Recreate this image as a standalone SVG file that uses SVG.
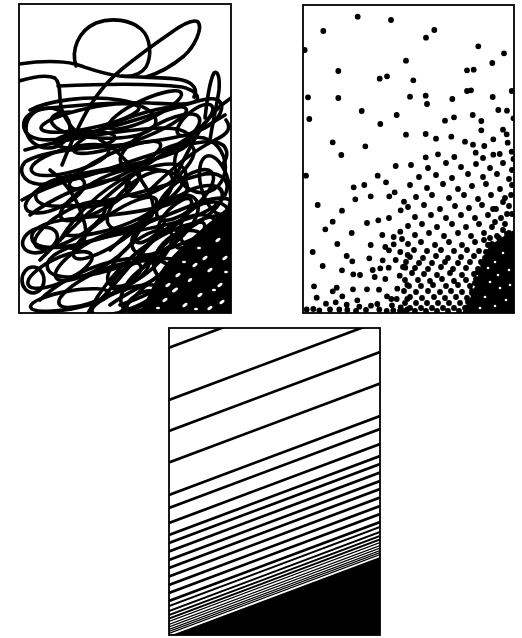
<svg xmlns="http://www.w3.org/2000/svg" width="522" height="638" viewBox="0 0 522 638">
<style>
.frame{fill:none;stroke:#000;stroke-width:1.8}
.scr{fill:none;stroke:#000;stroke-width:3.6;stroke-linecap:round;stroke-linejoin:round}
.dots{fill:none;stroke:#000;stroke-width:5.8;stroke-linecap:round}
.ln{stroke:#000;fill:none}
.hole{fill:#fff}
</style>
<defs>
<clipPath id="c1"><rect x="19" y="4" width="212" height="309"/></clipPath>
<clipPath id="c2"><rect x="303" y="5" width="211" height="308"/></clipPath>
<clipPath id="c3"><rect x="169" y="328" width="211" height="307"/></clipPath>
</defs>
<rect width="522" height="638" fill="#fff"/>

<g id="scribble">
<g clip-path="url(#c1)">
<g class="scr">
<path d="M19,64 C40,61 62,61 75,64 C88,68 102,74 120,76 C145,78 168,77 182,80 C194,83 198,90 194,97"/>
<path d="M76,66 C71,50 78,31 96,23 C112,17 131,20 141,29 C151,38 152,56 146,67 C141,74 132,77 122,76"/>
<path d="M62,165 C70,145 80,122 90,106 C101,88 112,77 122,69 C138,56 156,43 172,32 C183,24 194,19 198,22 C203,28 195,46 184,56 C172,66 160,73 146,77"/>
<path d="M19,81 C32,77 46,74 55,78 C62,84 58,98 62,110 C66,122 72,128 80,135"/>
<path d="M58,86 C100,84 150,83 182,87 C194,90 199,95 197,100 C190,106 170,104 150,103 C120,102 80,105 50,108 C30,110 22,118 24,128 C27,140 45,142 65,138 C100,132 140,118 175,108 C195,102 210,96 218,100 C226,106 220,120 205,128 C185,138 150,142 110,146 C75,149 40,152 25,162 C18,170 22,182 38,184 C60,186 100,172 135,160 C165,150 195,140 215,142 C228,144 230,155 222,165"/>
<path d="M205,118 C207,100 210,80 214,73 C218,70 220,78 219,90 C217,105 213,120 210,140"/>
<path d="M231,98 C220,105 210,115 200,130 C188,150 178,170 170,190"/>
<path d="M22,200 C40,190 70,178 100,172 C130,166 160,168 178,175 C192,182 190,195 175,202 C150,212 110,215 80,218 C55,220 35,225 32,235 C30,248 50,250 75,245 C110,238 150,222 185,208 C205,200 222,195 230,200"/>
<path d="M25,150 C60,140 120,130 160,128 C190,127 200,140 180,150 C150,165 90,170 60,178 C35,185 28,200 45,205 C80,212 150,190 200,175 C220,170 232,180 225,195 C215,215 170,225 130,232 C90,240 55,248 48,262 C42,278 70,282 110,270 C150,258 190,240 215,230"/>
<path d="M30,110 C50,100 90,95 120,100 C150,105 165,120 150,130 C130,142 80,140 60,130 C45,122 50,112 70,112"/>
<path d="M100,300 C120,280 140,250 165,230 C185,215 205,210 215,220 C222,232 205,250 185,262 C160,278 130,290 110,305"/>
<path d="M40,300 C55,285 80,270 110,262 C140,255 165,258 170,268 C175,282 150,295 120,305"/>
<path d="M60,240 C75,215 100,190 130,175 C155,163 180,160 185,170 C190,185 165,205 140,218 C115,230 85,238 65,235"/>
<path d="M40,260 C70,230 100,200 140,170 C170,148 200,130 225,115"/>
<path d="M30,215 C50,200 80,185 110,180 C130,177 138,185 125,195 C110,205 85,210 70,205"/>
<path d="M88,313 C100,290 115,270 140,250 C160,235 180,225 200,222"/>
<path d="M120,313 C135,295 155,275 175,265 C190,258 205,262 200,272"/>
<path d="M150,190 C170,170 195,150 215,140 C228,134 232,128 226,120"/>
<path d="M100,140 C120,150 140,175 150,195 C158,212 150,225 140,220"/>
<path d="M50,170 C70,185 80,205 85,225 C88,240 80,250 70,248"/>
<path d="M110,250 C130,230 160,205 190,190 C210,182 225,185 222,198 C218,212 195,225 170,240"/>
<path d="M125,290 C140,270 160,245 185,228 C205,216 222,212 228,220"/>
<ellipse cx="90" cy="118" rx="50" ry="10" transform="rotate(-12 90 118)"/>
<ellipse cx="130" cy="130" rx="60" ry="12" transform="rotate(-20 130 130)"/>
<ellipse cx="48" cy="128" rx="22" ry="20"/>
<ellipse cx="160" cy="140" rx="45" ry="15" transform="rotate(-30 160 140)"/>
<ellipse cx="195" cy="120" rx="22" ry="9" transform="rotate(-40 195 120)"/>
<ellipse cx="70" cy="160" rx="40" ry="12" transform="rotate(-15 70 160)"/>
<ellipse cx="115" cy="165" rx="50" ry="12" transform="rotate(-25 115 165)"/>
<ellipse cx="160" cy="170" rx="40" ry="16" transform="rotate(-35 160 170)"/>
<ellipse cx="200" cy="165" rx="25" ry="28" transform="rotate(-20 200 165)"/>
<ellipse cx="55" cy="195" rx="32" ry="13" transform="rotate(-25 55 195)"/>
<ellipse cx="100" cy="195" rx="45" ry="14" transform="rotate(-30 100 195)"/>
<ellipse cx="140" cy="200" rx="40" ry="18" transform="rotate(-40 140 200)"/>
<ellipse cx="185" cy="195" rx="35" ry="15" transform="rotate(-40 185 195)"/>
<ellipse cx="215" cy="185" rx="14" ry="30" transform="rotate(-15 215 185)"/>
<ellipse cx="70" cy="225" rx="40" ry="14" transform="rotate(-30 70 225)"/>
<ellipse cx="115" cy="228" rx="50" ry="14" transform="rotate(-35 115 228)"/>
<ellipse cx="165" cy="225" rx="40" ry="20" transform="rotate(-40 165 225)"/>
<ellipse cx="205" cy="225" rx="28" ry="20" transform="rotate(-35 205 225)"/>
<ellipse cx="40" cy="240" rx="18" ry="12" transform="rotate(-20 40 240)"/>
<ellipse cx="95" cy="255" rx="45" ry="14" transform="rotate(-30 95 255)"/>
<ellipse cx="140" cy="258" rx="40" ry="16" transform="rotate(-40 140 258)"/>
<ellipse cx="60" cy="270" rx="35" ry="12" transform="rotate(-25 60 270)"/>
<ellipse cx="33" cy="280" rx="11" ry="13"/>
<ellipse cx="100" cy="285" rx="45" ry="13" transform="rotate(-25 100 285)"/>
<ellipse cx="150" cy="285" rx="35" ry="18" transform="rotate(-40 150 285)"/>
<ellipse cx="70" cy="300" rx="40" ry="9" transform="rotate(-10 70 300)"/>
<ellipse cx="125" cy="300" rx="35" ry="10" transform="rotate(-20 125 300)"/>
<ellipse cx="180" cy="255" rx="30" ry="20" transform="rotate(-40 180 255)"/>
<ellipse cx="195" cy="275" rx="25" ry="18" transform="rotate(-35 195 275)"/>
<ellipse cx="180" cy="295" rx="25" ry="14" transform="rotate(-30 180 295)"/>
<ellipse cx="210" cy="250" rx="20" ry="15" transform="rotate(-30 210 250)"/>
<ellipse cx="85" cy="140" rx="30" ry="8" transform="rotate(-5 85 140)"/>
<ellipse cx="145" cy="110" rx="40" ry="10" transform="rotate(-25 145 110)"/>
<ellipse cx="160" cy="245" rx="22" ry="9" transform="rotate(-40 160 245)"/>
<ellipse cx="130" cy="275" rx="22" ry="8" transform="rotate(-35 130 275)"/>
<ellipse cx="175" cy="215" rx="22" ry="8" transform="rotate(-45 175 215)"/>
<ellipse cx="150" cy="230" rx="18" ry="7" transform="rotate(-40 150 230)"/>
<ellipse cx="190" cy="235" rx="18" ry="8" transform="rotate(-40 190 235)"/>
<ellipse cx="140" cy="300" rx="15" ry="6" transform="rotate(-30 140 300)"/>
</g>
<path d="M140,313 C146,300 153,285 160,272 C168,260 176,252 186,243 C196,234 206,225 215,218 C222,212 227,208 231,204 L231,313 Z" fill="#000"/>
<g class="hole">
<ellipse cx="165" cy="300" rx="3" ry="1.5" transform="rotate(-35 165 300)"/>
<ellipse cx="175" cy="290" rx="3.5" ry="1.5" transform="rotate(-35 175 290)"/>
<ellipse cx="185" cy="305" rx="3" ry="1.5" transform="rotate(-35 185 305)"/>
<ellipse cx="190" cy="280" rx="2.5" ry="1.5" transform="rotate(-35 190 280)"/>
<ellipse cx="200" cy="295" rx="3" ry="1.5" transform="rotate(-35 200 295)"/>
<ellipse cx="210" cy="270" rx="3" ry="1.5" transform="rotate(-35 210 270)"/>
<ellipse cx="220" cy="285" rx="3" ry="1.5" transform="rotate(-35 220 285)"/>
<ellipse cx="205" cy="258" rx="3" ry="1.5" transform="rotate(-35 205 258)"/>
<ellipse cx="218" cy="240" rx="3" ry="1.5" transform="rotate(-35 218 240)"/>
<ellipse cx="222" cy="302" rx="3" ry="1.5" transform="rotate(-35 222 302)"/>
<ellipse cx="195" cy="265" rx="3" ry="1.5" transform="rotate(-35 195 265)"/>
<ellipse cx="178" cy="275" rx="3" ry="1.5" transform="rotate(-35 178 275)"/>
<ellipse cx="168" cy="285" rx="3" ry="1.5" transform="rotate(-35 168 285)"/>
<ellipse cx="210" cy="308" rx="3" ry="1.5" transform="rotate(-35 210 308)"/>
<ellipse cx="225" cy="258" rx="3" ry="1.5" transform="rotate(-35 225 258)"/>
<ellipse cx="158" cy="308" rx="2" ry="1.2"/>
<ellipse cx="196" cy="309" rx="2" ry="1.2"/>
<ellipse cx="214" cy="290" rx="2" ry="1.2"/>
<ellipse cx="226" cy="272" rx="2" ry="1.2"/>
<ellipse cx="199" cy="248" rx="2" ry="1.2"/>
<ellipse cx="184" cy="262" rx="2" ry="1.2"/>
</g>
</g>
<rect class="frame" x="19" y="4" width="212" height="309"/>
</g>

<g id="dots">
<g clip-path="url(#c2)">
<path class="dots" d="M357.7,16.7h0M391,20h0M323.3,31h0M304.7,50h0M406,60.7h0M338.3,71h0M379.7,78.7h0M387,76.3h0M308,97.3h0M338.3,98h0M410,96.7h0M361.7,111h0M396.7,115h0M309.3,119h0M380.3,124h0M406,134.7h0M332.7,142.3h0M365.3,146.3h0M341.3,155h0
M434.3,30h0M426,37.7h0M478.3,46.3h0M504,53.3h0M492.3,63h0M467,70.3h0M473.7,69.7h0M413.3,80.3h0M467,91h0M471,90.3h0M511.7,91h0M425.7,95.7h0M427,104h0M452.3,99h0M492.7,97h0M498.3,110h0M507,110.7h0M454,117.3h0M472.7,115h0M445,120.7h0M481.3,121h0M513.5,118.3h0M481.3,130.3h0M503,129.7h0M506.7,134.3h0M425.7,134h0M436,138.7h0M451.3,136.7h0M465,141.7h0M473,144.7h0M484.3,146h0M493.3,139.3h0M507.7,142.7h0M475.7,152.7h0M493.3,154.7h0M499.7,154h0M511.7,151.7h0M425.7,157.3h0M438,154.3h0M454.3,157h0M483,158h0M513.5,159h0
M306,175.7h0M395.7,166h0M377.7,175.7h0M353.7,187.3h0M364.3,185h0M386,182.3h0M355.3,199.3h0M370.7,196.3h0M389.3,196.3h0M394.7,192.3h0M404,201.7h0M317.7,205h0M342,210.7h0M400.7,210.3h0M389,218h0M378.3,220.3h0M367,223h0M332.7,221.7h0M325.3,229.3h0M351.7,233h0M382.3,235h0M400.3,231.7h0M393.7,237h0M402,239h0M337.3,244h0M370.7,245h0M393.7,244.3h0M385.3,247h0M389,250.3h0M400.3,252h0M312.7,252h0M407.7,255h0M346.7,256h0M352.3,261.3h0M369.3,258.3h0M382.7,260.3h0M395.7,260h0M322.7,266h0M342,270.3h0M372.7,270h0M380.3,268.3h0M388.7,267.7h0M405.3,267.7h0M353.3,274.3h0M360,275h0M374.7,277h0M385.3,279h0M399.7,275.7h0M314,286.3h0M332.7,291.3h0M336.7,287.7h0M353,289.3h0M367,289.3h0M379,289.7h0M397.3,288.7h0M407.3,285h0M316.7,297.7h0M342.3,296.3h0M357.3,300.3h0M387,296.3h0M391.3,299h0M396.7,299h0M407.3,299h0M326,303.7h0M335.7,302.3h0M346.7,304.7h0M359.3,306.7h0M371,305.7h0M377.3,304h0M392,305.3h0M400.7,307.3h0M306.7,309.5h0M313.3,309h0M319.3,310.5h0M330,309.5h0M339.3,309.5h0M347.3,310h0M379.3,309.5h0M386.7,311h0M393.3,310.5h0M400,311h0M407.3,309.5h0M366,310h0M356,311h0
M411,165h0M428,168h0M446,163h0M461,167h0M476,164h0M490,168h0M503,163h0M512,170h0
M419,177h0M436,175h0M452,178h0M468,174h0M483,177h0M497,174h0M509,179h0
M410,185h0M427,188h0M443,184h0M458,189h0M472,186h0M486,184h0M500,189h0M512,185h0
M416,197h0M432,195h0M449,198h0M464,195h0M478,199h0M491,195h0M505,198h0
M408,207h0M424,205h0M440,209h0M455,206h0M469,208h0M482,205h0M496,209h0M509,206h0
M415,217h0M431,215h0M446,218h0M461,215h0M475,218h0M488,215h0M501,218h0M512,214h0
M408,226h0M422,224h0M437,227h0M452,224h0M466,227h0M479,224h0M492,227h0M505,224h0
M415,235h0M429,233h0M444,236h0M458,233h0M471,236h0M484,233h0M497,236h0M509,233h0
M408,244h0M421,242h0M435,245h0M449,242h0M462,245h0M475,242h0M488,245h0M500,242h0M511,246h0
M414,250h0M427,251h0M441,250h0M454,251h0M467,250h0M479,251h0
M410,257h0M423,258h0M436,256h0M448,258h0M461,257h0M474,256h0M485,258h0
M406,262h0M419,263h0M432,263h0M445,262h0M458,263h0M470,262h0M482,263h0
M403,267h0M415,268h0M428,269h0M441,267h0M453,269h0M466,268h0M478,269h0
M412,273h0M424,274h0M437,275h0M450,273h0M462,275h0M474,274h0
M405,280h0M418,280h0M430,281h0M442,279h0M454,281h0M466,280h0M476,279h0
M409,286h0M421,286h0M433,285h0M446,286h0M458,285h0M470,286h0
M404,291h0M416,292h0M428,291h0M440,292h0M451,291h0M462,292h0M472,291h0
M410,297h0M422,298h0M434,297h0M445,298h0M456,297h0M467,298h0
M405,303h0M416,303h0M427,303h0M438,303h0M449,303h0M460,303h0M470,303h0
M410,308h0M421,308h0M432,308h0M443,308h0M454,308h0M465,308h0
M405,311h0M415,311h0M426,311h0M437,311h0M448,311h0M459,311h0
M495,222h0M503,230h0M511,238h0M490,238h0M499,248h0M507,214h0M493,209h0M503,202h0M511,195h0M484,240h0M505,240h0
M486,252h0M481,262h0M478,272h0M475,283h0M472,293h0M468,302h0M466,308h0M492,244h0M499,238h0M507,234h0"/>
<path d="M514,230 C506,235 496,240 489,247 C483,256 480,267 477,279 C474,291 469,301 462,313 L514,313 Z" fill="#000"/>
<g class="hole">
<circle cx="495" cy="262" r="1.3"/><circle cx="503" cy="253" r="1.3"/><circle cx="509" cy="270" r="1.3"/><circle cx="490" cy="282" r="1.3"/><circle cx="500" cy="288" r="1.3"/><circle cx="506" cy="300" r="1.3"/><circle cx="485" cy="297" r="1.3"/><circle cx="495" cy="306" r="1.3"/><circle cx="510" cy="285" r="1.3"/><circle cx="480" cy="308" r="1.3"/><circle cx="498" cy="275" r="1.3"/><circle cx="488" cy="268" r="1.3"/>
</g>
</g>
<rect class="frame" x="303" y="5" width="211" height="308"/>
</g>

<g id="lines">
<g clip-path="url(#c3)">
<path class="ln" stroke-width="2.7" d="M169,347.7L380,268.7M169,400L380,321M169,431L380,352M169,462.5L380,383.5M169,495L380,416M169,508L380,429M169,523L380,444M169,535L380,456M169,543L380,464M169,551.5L380,472.5M169,560L380,481M169,568L380,489M169,576.5L380,497.5M169,585L380,506M169,593L380,514M169,601L380,522"/>
<path class="ln" stroke-width="1.9" d="M169,606L380,527M169,611L380,532M169,615L380,536M169,618.5L380,539.5"/>
<path class="ln" stroke-width="1.3" d="M169,621.5L380,542.5M169,624.5L380,545.5M169,627L380,548M169,629.5L380,550.5M169,631.5L380,552.5M169,633.5L380,554.5"/>
<polygon points="169,636 380,557 380,636" fill="#000"/>
</g>
<rect class="frame" x="169" y="328" width="211" height="307"/>
</g>
</svg>
